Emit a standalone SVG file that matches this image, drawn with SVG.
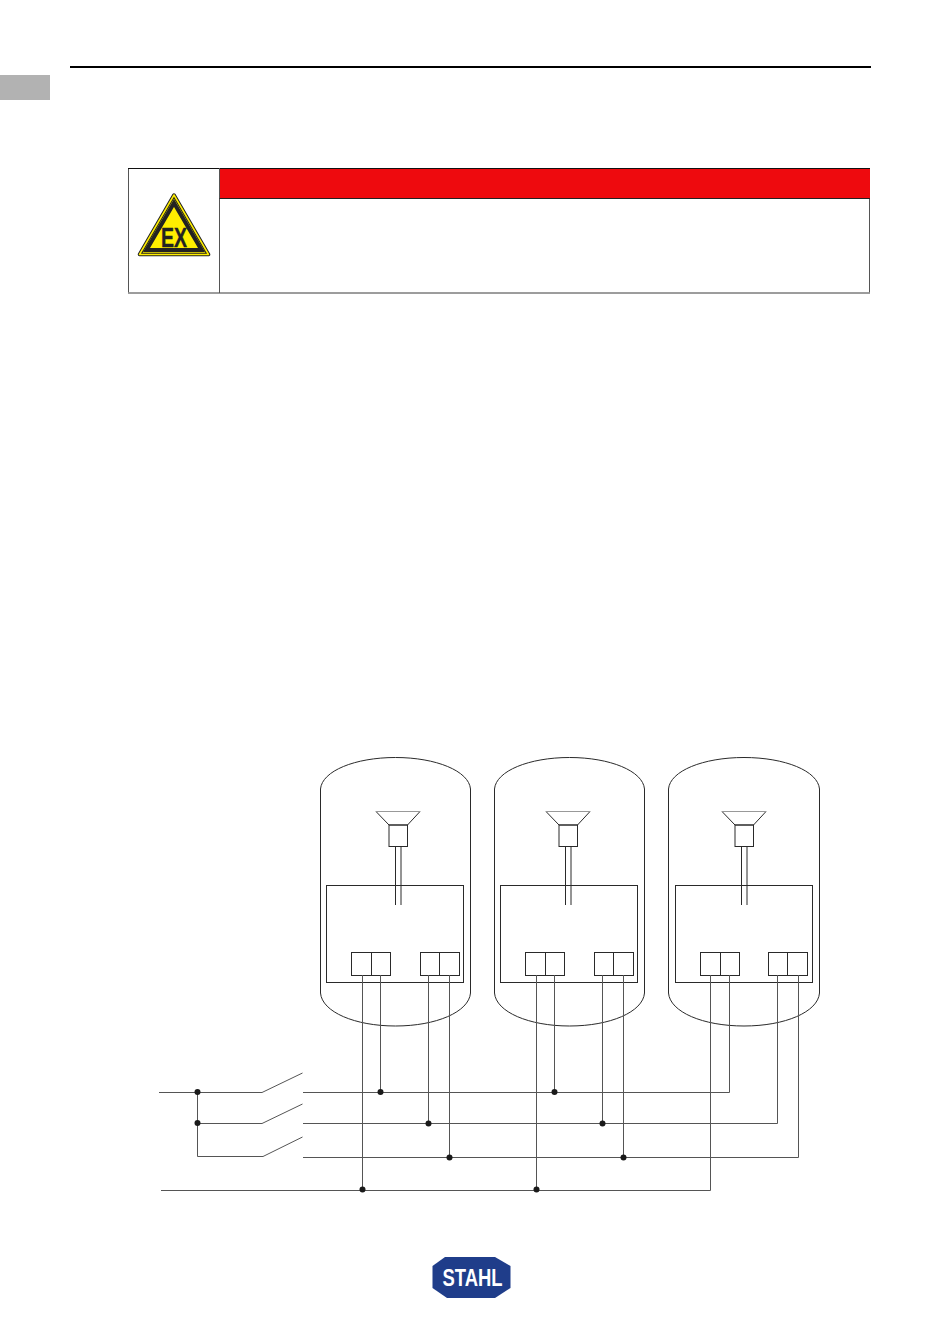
<svg xmlns="http://www.w3.org/2000/svg" width="950" height="1344" viewBox="0 0 950 1344">
<style>
.l{fill:none;stroke:#2a2a2a;stroke-width:1}
.w{fill:none;stroke:#555;stroke-width:1}
.d{fill:#1a1a1a}
</style>
<defs>
<path id="shell" class="l" d="M0.500 32V236C2 255 35 269 75.500 269C116 269 149 255 150.500 236V32C149 14 116 0.500 75.500 0.500C35 0.500 2 14 0.500 32Z"/>
<g id="spk">
<path class="l" d="M56 54.500H100L87.500 68H69Z"/>
<path d="M56 54.500H100" fill="none" stroke="#999" stroke-width="1"/>
<rect class="l" x="69" y="68" width="18.500" height="21.500"/>
<path class="l" d="M75.500 89.500V148M81 89.500V148"/>
</g>
<g id="box">
<rect class="l" x="6.500" y="128.500" width="137" height="97"/>
<rect class="l" x="31.500" y="195.500" width="39" height="23"/>
<path class="l" d="M51.500 195.500V218.500"/>
</g>
<g id="tr">
<rect class="l" x="100.500" y="195.500" width="39" height="23"/>
<path class="l" d="M119.500 195.500V218.500"/>
</g>
</defs>
<rect id="tab" x="0" y="75" width="50" height="25" fill="#b2b2b2"/>
<rect id="header-rule" x="70" y="66" width="801" height="2" fill="#000"/>
<g id="warning">
<rect x="128.500" y="168.500" width="741" height="124.500" fill="#fff" stroke="#555" stroke-width="1"/>
<path d="M128 168.500H870" stroke="#111" stroke-width="1" fill="none"/>
<path d="M128 293H870" stroke="#999" stroke-width="1.500" fill="none"/>
<rect x="220" y="169" width="650" height="29" fill="#ee0a0e"/>
<path d="M219.500 168V293" stroke="#555" stroke-width="1" fill="none"/>
<path d="M219.500 198.500H870" stroke="#222" stroke-width="1" fill="none"/>
<g id="ex-sign">
<path d="M174 195L208.500 254.500H139.500Z" fill="#ffee00" stroke="#222" stroke-width="3.500" stroke-linejoin="round"/>
<path d="M174 195L208.500 254.500H139.500Z" fill="none" stroke="#ffee00" stroke-width="1.500" stroke-linejoin="round"/>
<path d="M174 203L201.500 250H146.500Z" fill="#ffee00" stroke="#222" stroke-width="4" stroke-linejoin="miter"/>
<text x="174" y="247" text-anchor="middle" font-family="'Liberation Sans',Arial,sans-serif" font-size="27" font-weight="700" fill="#222" stroke="#222" stroke-width="0.4" textLength="26" lengthAdjust="spacingAndGlyphs">EX</text>
</g>
</g>
<g id="device-1"><use href="#shell" x="320" y="757"/><use href="#spk" x="320" y="757"/><use href="#box" x="320" y="757"/><use href="#tr" x="320" y="757"/></g>
<g id="device-2"><use href="#shell" x="494" y="757"/><use href="#spk" x="490" y="757"/><use href="#box" x="494" y="757"/><use href="#tr" x="494" y="757"/></g>
<g id="device-3"><path class="l" d="M668.500 789V993C670 1012 703 1026 744 1026C785 1026 818 1012 819.500 993V789C818 771 785 757.500 744 757.500C703 757.500 670 771 668.500 789Z"/><use href="#spk" x="666" y="757"/><use href="#box" x="669" y="757"/><use href="#tr" x="668" y="757"/></g>
<g id="connectors" class="w">
<path class="w" d="M159 1092.500H262L302.500 1073"/>
<path class="w" d="M197.500 1092.500V1156.500H263L302.500 1137"/>
<path class="w" d="M197.500 1123.500H262L302.500 1104"/>
<path class="w" d="M303 1092.500H729.500V975"/>
<path class="w" d="M303 1123.500H777.500V975"/>
<path class="w" d="M303 1157.500H798.500V975"/>
<path class="w" d="M161 1190.500H710.500V975"/>
<path class="w" d="M362.500 975V1190M380.500 975V1092M428.500 975V1123M449.500 975V1157M536.500 975V1190M554.500 975V1092M602.500 975V1123M623.500 975V1157"/>
</g>
<g id="junctions">
<circle class="d" cx="197.500" cy="1092" r="3"/>
<circle class="d" cx="197.500" cy="1123" r="3"/>
<circle class="d" cx="380.500" cy="1092" r="3"/>
<circle class="d" cx="554.500" cy="1092" r="3"/>
<circle class="d" cx="428.500" cy="1123.500" r="3"/>
<circle class="d" cx="602.500" cy="1123.500" r="3"/>
<circle class="d" cx="449.500" cy="1157.500" r="3"/>
<circle class="d" cx="623.500" cy="1157.500" r="3"/>
<circle class="d" cx="362.500" cy="1189.500" r="3"/>
<circle class="d" cx="536.500" cy="1189.500" r="3"/>
</g>
<g id="logo">
<path d="M445 1257H495L510.500 1266V1288L495 1298H447L432.500 1288V1266Z" fill="#1f3d8a"/>
<text x="472.500" y="1286" text-anchor="middle" font-family="'Liberation Sans',Arial,sans-serif" font-size="23" font-weight="700" fill="#fff" textLength="60" lengthAdjust="spacingAndGlyphs">STAHL</text>
</g>
</svg>
